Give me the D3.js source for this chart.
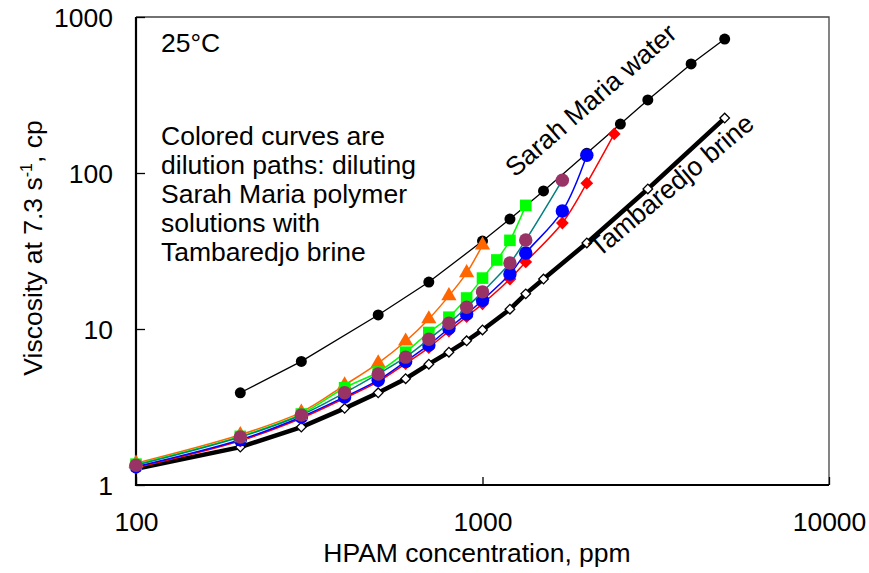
<!DOCTYPE html>
<html>
<head>
<meta charset="utf-8">
<script src="https://cdn.jsdelivr.net/npm/d3@7"></script>
<style>
  body { margin: 0; background: #fff; }
  svg text { font-family: "Liberation Sans", Arial, sans-serif; fill: #000; }
</style>
</head>
<body>
<div id="chart"></div>
<script>
// chart data (ppm, cp)
var sarahConc = [200, 300, 500, 700, 1000, 1200, 1500, 2000, 2500, 3000, 4000, 5000];
var sarahVisc = [3.9, 6.2, 12.3, 20, 36.6, 50.7, 76.7, 134, 206, 294, 500, 722];

var brineConc = [100, 200, 300, 400, 500, 600, 700, 800, 900, 1000, 1200, 1333, 1500, 2000, 3000, 5000];
var brineVisc = [1.27, 1.75, 2.35, 3.1, 3.9, 4.8, 5.95, 7.1, 8.4, 9.86, 13.4, 16.8, 20.9, 35.6, 79, 225];

var orangeConc = [1000, 900, 800, 700, 600, 500, 400, 300, 200, 100];
var orangeVisc = [34.5, 22.9, 16.3, 11.6, 8.35, 6.05, 4.37, 2.93, 2.1, 1.38];

var greenConc = [1333, 1200, 1100, 1000, 900, 800, 700, 600, 500, 400, 300, 200, 100];
var greenVisc = [62, 37, 27.7, 21.2, 15.8, 11.9, 9.5, 7.1, 5.3, 4.2, 2.85, 2.05, 1.36];

var purpleConc = [1700, 1333, 1200, 1000, 900, 800, 700, 600, 500, 400, 300, 200, 100];
var purpleVisc = [90, 37.2, 26.5, 17.3, 13.8, 10.9, 8.6, 6.6, 5.15, 3.9, 2.81, 2.03, 1.34];

var blueConc = [2000, 1700, 1333, 1200, 1000, 900, 800, 700, 600, 500, 400, 300, 200, 100];
var blueVisc = [130, 57, 30.7, 22.5, 15.3, 12.5, 10.1, 7.9, 6.2, 4.7, 3.67, 2.73, 1.95, 1.31];

var redConc = [2400, 2000, 1700, 1333, 1200, 1000, 900, 800, 700, 600, 500, 400, 300, 200, 100];
var redVisc = [178, 86, 47.8, 26.9, 20.9, 14.5, 12.0, 9.7, 7.6, 6.0, 4.6, 3.6, 2.68, 1.92, 1.29];

var xTicks = [100, 1000, 10000];
var yTicks = [1, 10, 100, 1000];

// set the dimensions and margins of the graph
var margin = { top: 17, right: 40, bottom: 88, left: 136 },
    width = 829 - margin.left,
    height = 485 - margin.top;
var fs = "26.5px";

var svg = d3.select("#chart")
    .append("svg")
    .attr("width", 869)
    .attr("height", 573)
    .append("g")
    .attr("transform", "translate(" + margin.left + "," + margin.top + ")");

var x = d3.scaleLog().domain([100, 10000]).range([0, width]);
var y = d3.scaleLog().domain([1, 1000]).range([height, 0]);

function zip(xs, ys) {
    return xs.map(function (c, i) { return { c: c, v: ys[i] }; });
}

// minor ticks
var xMinor = [], yMinor = [];
[100, 1000].forEach(function (d) { for (var k = 2; k <= 9; k++) xMinor.push(d * k); });
[1, 10, 100].forEach(function (d) { for (var k = 2; k <= 9; k++) yMinor.push(d * k); });

// frame (top / right)
svg.append("path")
    .attr("d", "M0,0H" + width + "V" + height)
    .attr("fill", "none")
    .attr("stroke", "#444")
    .attr("stroke-width", 1.3);

// x axis
var gx = svg.append("g").attr("transform", "translate(0," + height + ")");
gx.call(d3.axisBottom(x).tickValues(xMinor).tickSize(-5).tickFormat(""));
gx.call(d3.axisBottom(x).tickValues(xTicks).tickSize(-8).tickPadding(0).tickFormat(d3.format("d")));
gx.selectAll(".domain").remove();
gx.selectAll("line").attr("stroke", "#000").attr("stroke-width", 1.3);
gx.selectAll("text").attr("y", 46).attr("dy", null).style("font-size", fs);

// y axis
var gy = svg.append("g");
gy.call(d3.axisLeft(y).tickValues(yMinor).tickSize(-6).tickFormat(""));
gy.call(d3.axisLeft(y).tickValues(yTicks).tickSize(-9).tickPadding(23).tickFormat(d3.format("d")));
gy.selectAll(".domain").remove();
gy.selectAll("line").attr("stroke", "#000").attr("stroke-width", 1.3);
gy.selectAll("text").attr("dy", "0.36em").style("font-size", fs);

// main axis lines
svg.append("path")
    .attr("d", "M0,0V" + height + "H" + width)
    .attr("fill", "none")
    .attr("stroke", "#000")
    .attr("stroke-width", 2.2);

// axis titles
svg.append("text")
    .attr("x", 341)
    .attr("y", 545)
    .attr("text-anchor", "middle")
    .style("font-size", fs)
    .text("HPAM concentration, ppm");

var yl = svg.append("text")
    .attr("transform", "translate(-94," + 231 + ") rotate(-90)")
    .attr("text-anchor", "middle")
    .style("font-size", fs);
yl.append("tspan").text("Viscosity at 7.3 s");
yl.append("tspan").attr("dy", "-10").style("font-size", "16px").text("-1");
yl.append("tspan").attr("dy", "10").text(", cp");

var line = d3.line().x(function (d) { return x(d.c); }).y(function (d) { return y(d.v); });
var smooth = d3.line().curve(d3.curveCatmullRom.alpha(0.5))
    .x(function (d) { return x(d.c); }).y(function (d) { return y(d.v); });

// rotated square = diamond with equal diagonals
function marker(g, pts, sym, size, fill, stroke, rot) {
    g.selectAll("path").data(pts).enter().append("path")
        .attr("d", d3.symbol().type(sym).size(size))
        .attr("transform", function (d) {
            return "translate(" + x(d.c) + "," + y(d.v) + ")" + (rot ? " rotate(45)" : "");
        })
        .attr("fill", fill)
        .attr("stroke", stroke || "none")
        .attr("stroke-width", 1.3);
}

// Tambaredjo brine (thick)
var brine = zip(brineConc, brineVisc);
svg.append("path").datum(brine)
    .attr("fill", "none").attr("stroke", "#000").attr("stroke-width", 4.5)
    .attr("d", line);
marker(svg.append("g"), brine, d3.symbolSquare, 46, "#fff", "#000", true);

// Sarah Maria water
var sarah = zip(sarahConc, sarahVisc);
svg.append("path").datum(sarah)
    .attr("fill", "none").attr("stroke", "#000").attr("stroke-width", 1.3)
    .attr("d", line);
svg.append("g").selectAll("circle").data(sarah).enter().append("circle")
    .attr("cx", function (d) { return x(d.c); })
    .attr("cy", function (d) { return y(d.v); })
    .attr("r", 5.5).attr("fill", "#000");

// dilution paths
var series = [
    { conc: redConc, visc: redVisc, line: "#ff0000", fill: "#ff0000", sym: d3.symbolSquare, size: 82, rot: true },
    { conc: blueConc, visc: blueVisc, line: "#0000ff", fill: "#0000ff", sym: d3.symbolCircle, size: 142 },
    { conc: orangeConc, visc: orangeVisc, line: "#ff6600", fill: "#ff6600", sym: d3.symbolTriangle, size: 100 },
    { conc: greenConc, visc: greenVisc, line: "#00ff00", fill: "#00ff00", sym: d3.symbolSquare, size: 135 },
    { conc: purpleConc, visc: purpleVisc, line: "#008080", fill: "#993366", sym: d3.symbolCircle, size: 142 }
];
series.forEach(function (s) {
    var pts = zip(s.conc, s.visc);
    svg.append("path").datum(pts)
        .attr("fill", "none").attr("stroke", s.line).attr("stroke-width", 1.5)
        .attr("d", smooth);
    marker(svg.append("g"), pts, s.sym, s.size, s.fill, null, s.rot);
});

// annotations
svg.append("text").attr("x", 25).attr("y", 35).style("font-size", fs).text("25°C");
var note = ["Colored curves are", "dilution paths: diluting", "Sarah Maria polymer",
    "solutions with", "Tambaredjo brine"];
svg.append("g").selectAll("text").data(note).enter().append("text")
    .attr("x", 25)
    .attr("y", function (d, i) { return 128 + i * 29; })
    .style("font-size", fs)
    .text(function (d) { return d; });

svg.append("text")
    .attr("transform", "translate(379,161) rotate(-41)")
    .style("font-size", fs)
    .text("Sarah Maria water");
svg.append("text")
    .attr("transform", "translate(463,241) rotate(-40)")
    .style("font-size", fs)
    .text("Tambaredjo brine");
</script>
</body>
</html>
